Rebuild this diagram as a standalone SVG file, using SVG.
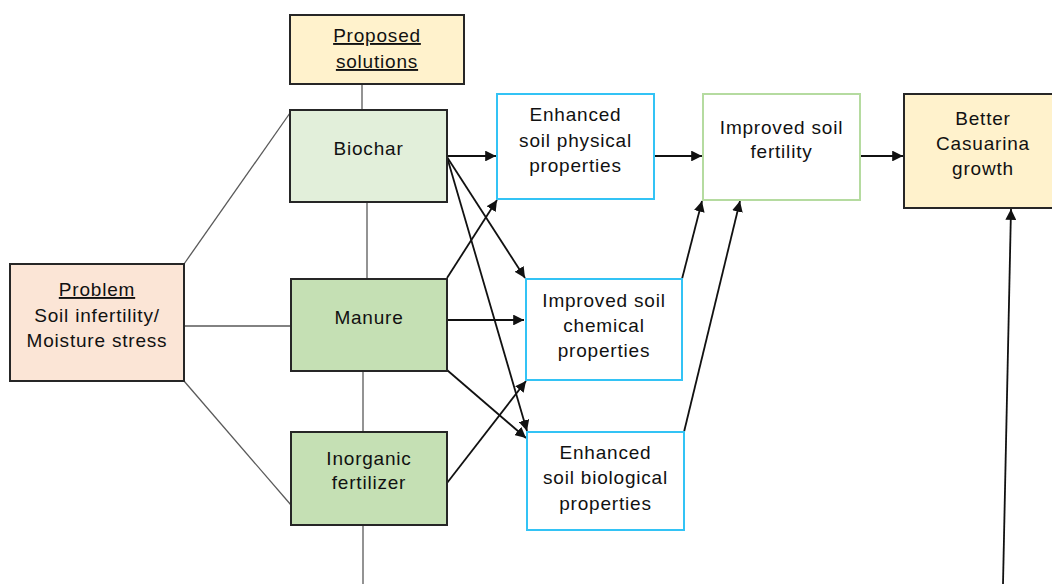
<svg xmlns="http://www.w3.org/2000/svg" width="1052" height="584" viewBox="0 0 1052 584">
<style>
text{font-family:"Liberation Sans",Arial,sans-serif;font-size:19px;letter-spacing:0.8px;fill:#111;text-anchor:middle}
.u{text-decoration:underline}
.dark{stroke:#262626;stroke-width:2}
.blue{fill:#fff;stroke:#33c3f5;stroke-width:2}
.grn{fill:#fff;stroke:#b5dba0;stroke-width:2}
.tie{stroke:#595959;stroke-width:1.3;fill:none}
.arr{stroke:#111;stroke-width:1.8;fill:none;marker-end:url(#ah)}
</style>
<defs>
<marker id="ah" viewBox="0 0 10 10" refX="10" refY="5" markerWidth="6" markerHeight="6" orient="auto" markerUnits="strokeWidth">
<path d="M0,0 L10,5 L0,10 z" fill="#111"/>
</marker>
</defs>
<rect width="1052" height="584" fill="#fff"/>
<g id="connectors">
<line class="tie" x1="362" y1="84" x2="362" y2="110"/>
<line class="tie" x1="367" y1="202" x2="367" y2="279"/>
<line class="tie" x1="363" y1="371" x2="363" y2="432"/>
<line class="tie" x1="363" y1="525" x2="363" y2="584"/>
<line class="tie" x1="184" y1="264" x2="290" y2="113"/>
<line class="tie" x1="184" y1="326" x2="291" y2="326"/>
<line class="tie" x1="184" y1="381" x2="291" y2="505"/>
<line class="arr" x1="447" y1="156" x2="496" y2="156"/>
<line class="arr" x1="654" y1="156" x2="702" y2="156"/>
<line class="arr" x1="860" y1="156" x2="903" y2="156"/>
<line class="arr" x1="447" y1="157" x2="525" y2="278"/>
<line class="arr" x1="447" y1="157" x2="527" y2="431"/>
<line class="arr" x1="447" y1="278" x2="497" y2="200"/>
<line class="arr" x1="447" y1="320" x2="524" y2="320"/>
<line class="arr" x1="447" y1="370" x2="526" y2="438"/>
<line class="arr" x1="447" y1="483" x2="526" y2="381"/>
<line class="arr" x1="682" y1="279" x2="702" y2="201"/>
<line class="arr" x1="684" y1="432" x2="740" y2="201"/>
<line class="arr" x1="1003" y1="584" x2="1011" y2="209"/>
</g>
<g id="proposed">
<rect class="dark" x="290" y="15" width="174" height="69" fill="#fff2cc"/>
<text x="377" y="42" class="u">Proposed</text>
<text x="377" y="68" class="u">solutions</text>
</g>
<g id="problem">
<rect class="dark" x="10" y="264" width="174" height="117" fill="#fbe5d6"/>
<text x="97" y="296" class="u">Problem</text>
<text x="97" y="322">Soil infertility/</text>
<text x="97" y="347">Moisture stress</text>
</g>
<g id="biochar">
<rect class="dark" x="290" y="110" width="157" height="92" fill="#e2efda"/>
<text x="368.5" y="155">Biochar</text>
</g>
<g id="manure">
<rect class="dark" x="291" y="279" width="156" height="92" fill="#c5e0b4"/>
<text x="369" y="324">Manure</text>
</g>
<g id="inorganic">
<rect class="dark" x="291" y="432" width="156" height="93" fill="#c5e0b4"/>
<text x="369" y="465">Inorganic</text>
<text x="369" y="489">fertilizer</text>
</g>
<g id="physical">
<rect class="blue" x="497" y="94" width="157" height="105"/>
<text x="575.5" y="121">Enhanced</text>
<text x="575.5" y="147">soil physical</text>
<text x="575.5" y="172">properties</text>
</g>
<g id="chemical">
<rect class="blue" x="526" y="279" width="156" height="101"/>
<text x="604" y="307">Improved soil</text>
<text x="604" y="332">chemical</text>
<text x="604" y="357">properties</text>
</g>
<g id="biological">
<rect class="blue" x="527" y="432" width="157" height="98"/>
<text x="605.5" y="459">Enhanced</text>
<text x="605.5" y="484">soil biological</text>
<text x="605.5" y="510">properties</text>
</g>
<g id="fertility">
<rect class="grn" x="703" y="94" width="157" height="106"/>
<text x="781.5" y="134">Improved soil</text>
<text x="781.5" y="158">fertility</text>
</g>
<g id="casuarina">
<rect class="dark" x="904" y="94" width="160" height="114" fill="#fff2cc"/>
<text x="983" y="125">Better</text>
<text x="983" y="150">Casuarina</text>
<text x="983" y="175">growth</text>
</g>
</svg>
